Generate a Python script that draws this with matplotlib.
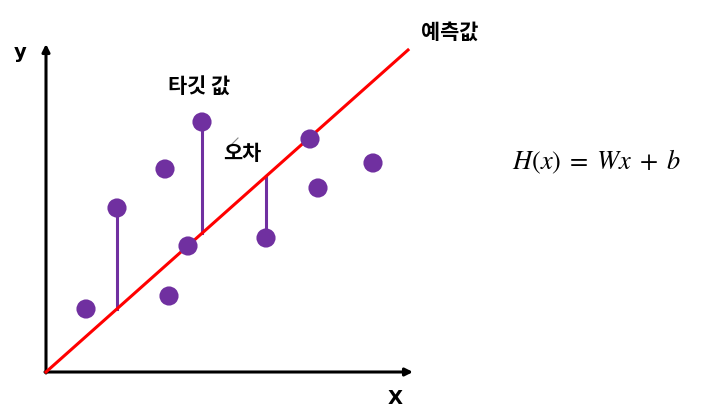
import matplotlib
matplotlib.use("Agg")
import matplotlib.pyplot as plt

plt.rcParams['font.family'] = ['Noto Sans CJK KR', 'DejaVu Sans']
plt.rcParams['mathtext.fontset'] = 'stix'

# data (origin at the axes corner)
pts_x = [40, 71, 119, 123, 142, 156, 220, 264, 272, 327]
pts_y = [63, 164, 203, 76, 126, 250, 134, 233, 184, 209]
line_x = [0, 362]
line_y = [0, 322]
slope = line_y[1] / line_x[1]
err_idx = [1, 5, 6]   # points with error segments drawn

fig = plt.figure(figsize=(7.02, 4.18), dpi=100)
ax = fig.add_axes([0, 0, 1, 1])
ax.set_xlim(-46, 656)
ax.set_ylim(-46, 372)
ax.axis('off')

# axes arrows
ax.annotate('', xy=(0, 328), xytext=(0, -1),
            arrowprops=dict(arrowstyle='-|>', color='black', lw=2.2,
                            mutation_scale=11, shrinkA=0, shrinkB=0))
ax.annotate('', xy=(367, 0), xytext=(-1, 0),
            arrowprops=dict(arrowstyle='-|>', color='black', lw=2.2,
                            mutation_scale=11, shrinkA=0, shrinkB=0))

# error segments
for i in err_idx:
    x = pts_x[i]
    ax.plot([x, x], [pts_y[i], slope * x], color='#7030A0', lw=2.2, zorder=2)

# regression line
ax.plot(line_x, line_y, color='#FF0000', lw=2.2, zorder=3)

# points
ax.scatter(pts_x, pts_y, s=190, color='#7030A0', zorder=4, edgecolors='none')

# labels
ax.text(-26, 320, 'y', fontsize=14, fontweight='bold', ha='center', va='center',
        family='DejaVu Sans')
ax.text(349, -26, 'X', fontsize=14, fontweight='bold', ha='center', va='center',
        family='DejaVu Sans')
ax.text(153, 286, '타깃 값', fontsize=15, fontweight='heavy', ha='center', va='center')
ax.text(196, 219, '오차', fontsize=15, fontweight='heavy', ha='center', va='center')
ax.text(404, 340, '예측값', fontsize=15, fontweight='heavy', ha='center', va='center')
ax.plot([186, 192], [228, 234], color='#888888', lw=0.8)
ax.text(551, 210, r'$H(x)\;=\;Wx\;+\;b$', fontsize=19, ha='center', va='center')

fig.savefig('out.png', dpi=100)
